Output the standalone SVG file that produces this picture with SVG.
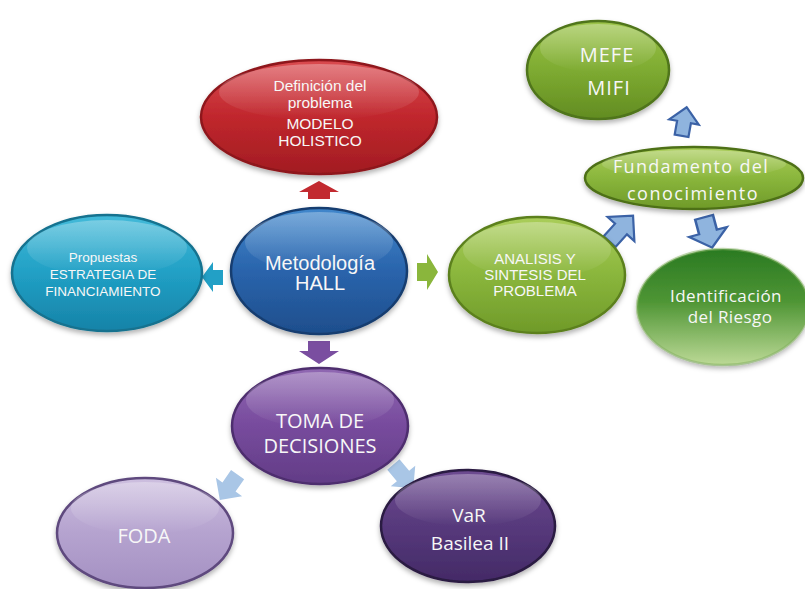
<svg xmlns="http://www.w3.org/2000/svg" width="805" height="589" viewBox="0 0 805 589">
<defs>
<filter id="sh" x="-20%" y="-20%" width="140%" height="150%"><feDropShadow dx="0" dy="3" stdDeviation="2.5" flood-color="#000" flood-opacity="0.3"/></filter>
<linearGradient id="gRed" x1="0" y1="0" x2="0" y2="1"><stop offset="0" stop-color="#DA4A50"/><stop offset="0.5" stop-color="#C0272D"/><stop offset="1" stop-color="#A21C22"/></linearGradient>
<linearGradient id="gBlue" x1="0" y1="0" x2="0" y2="1"><stop offset="0" stop-color="#4087CC"/><stop offset="0.5" stop-color="#2A64AC"/><stop offset="1" stop-color="#1E4E8C"/></linearGradient>
<linearGradient id="gCyan" x1="0" y1="0" x2="0" y2="1"><stop offset="0" stop-color="#43BAD9"/><stop offset="0.5" stop-color="#21A0C5"/><stop offset="1" stop-color="#1683A8"/></linearGradient>
<linearGradient id="gGreen" x1="0" y1="0" x2="0" y2="1"><stop offset="0" stop-color="#AACD5A"/><stop offset="0.5" stop-color="#8AB63C"/><stop offset="1" stop-color="#6F9A29"/></linearGradient>
<linearGradient id="gGreen2" x1="0" y1="0" x2="0" y2="1"><stop offset="0" stop-color="#9CC44A"/><stop offset="0.5" stop-color="#7EAB31"/><stop offset="1" stop-color="#628C22"/></linearGradient>
<linearGradient id="gIdent" x1="0" y1="0" x2="0" y2="1"><stop offset="0" stop-color="#2A7A22"/><stop offset="0.45" stop-color="#4E9534"/><stop offset="1" stop-color="#BCD996"/></linearGradient>
<linearGradient id="gToma" x1="0" y1="0" x2="0" y2="1"><stop offset="0" stop-color="#9068B2"/><stop offset="0.5" stop-color="#774B9D"/><stop offset="1" stop-color="#623C86"/></linearGradient>
<linearGradient id="gFoda" x1="0" y1="0" x2="0" y2="1"><stop offset="0" stop-color="#CDBFDF"/><stop offset="0.5" stop-color="#B5A3CF"/><stop offset="1" stop-color="#A490C2"/></linearGradient>
<linearGradient id="gVar" x1="0" y1="0" x2="0" y2="1"><stop offset="0" stop-color="#6E4C91"/><stop offset="0.5" stop-color="#57397C"/><stop offset="1" stop-color="#432A66"/></linearGradient>
<linearGradient id="gHi" x1="0" y1="0" x2="0" y2="1"><stop offset="0" stop-color="#fff" stop-opacity="0.3"/><stop offset="1" stop-color="#fff" stop-opacity="0"/></linearGradient>
</defs>
<style>
.node ellipse.b{stroke-width:2.5;filter:url(#sh)}
.hi{fill:url(#gHi)}
text{fill:#F7F7F7;text-anchor:middle}
.ar{font-family:"Liberation Sans",Arial,sans-serif}
.ca{font-family:"Open Sans","Noto Sans",sans-serif}
.ob{fill:#8FB4DE;stroke:#3B62A6;stroke-width:2.2;stroke-linejoin:miter}
.lb{fill:#A9C6E6}
</style>

<g id="connectors">
<path id="c-red" d="M319,181 L339,192 L330,192 L330,199 L308,199 L308,192 L299,192 Z" fill="#C2292F"/>
<path id="c-cyan" d="M202,277 L213,262 L213,270 L223,270 L223,285 L213,285 L213,292 Z" fill="#22A0C6"/>
<path id="c-green" d="M438,272 L427,254 L427,263 L417,263 L417,281 L427,281 L427,290 Z" fill="#8AB63C"/>
<path id="c-purple" d="M308,341 L330,341 L330,351 L339,351 L319,364 L299,351 L308,351 Z" fill="#7A4EA0"/>
<path id="c-fund" class="ob" d="M0,-18 L18,0 L8,0 L8,17 L-8,17 L-8,0 L-18,0 Z" transform="translate(621,229) rotate(42)"/>
<path id="c-ident" class="ob" d="M0,-17 L17,0 L8,0 L8,16 L-8,16 L-8,0 L-17,0 Z" transform="translate(708,232) rotate(165) scale(1.15,0.95)"/>
<path id="c-mefe" class="ob" d="M0,-15 L15,0 L7,0 L7,14 L-7,14 L-7,0 L-15,0 Z" transform="translate(684,122) rotate(10)"/>
<path id="c-foda" class="lb" d="M0,-16 L16,0 L8,0 L8,15 L-8,15 L-8,0 L-16,0 Z" transform="translate(229,487) rotate(-145)"/>
<path id="c-var" class="lb" d="M0,-16 L16,0 L8,0 L8,15 L-8,15 L-8,0 L-16,0 Z" transform="translate(403,476) rotate(140)"/>
</g>

<g id="n-definicion" class="node">
<ellipse class="b" cx="319" cy="117" rx="118" ry="57" fill="url(#gRed)" stroke="#8E181C"/>
<ellipse class="hi" cx="319" cy="92" rx="100" ry="28"/>
<text class="ar" font-size="15.5" x="320" y="91">Definición del</text>
<text class="ar" font-size="15.5" x="320" y="108">problema</text>
<text class="ar" font-size="15.5" x="320" y="129">MODELO</text>
<text class="ar" font-size="15.5" x="320" y="146">HOLISTICO</text>
</g>

<g id="n-propuestas" class="node">
<ellipse class="b" cx="107" cy="273" rx="95" ry="58" fill="url(#gCyan)" stroke="#13728F"/>
<ellipse class="hi" cx="107" cy="248" rx="80" ry="28"/>
<text class="ar" font-size="13.5" x="103" y="262">Propuestas</text>
<text class="ar" font-size="13.5" x="103" y="279">ESTRATEGIA DE</text>
<text class="ar" font-size="13.5" x="103" y="296">FINANCIAMIENTO</text>
</g>

<g id="n-metodologia" class="node">
<ellipse class="b" cx="319" cy="271" rx="88" ry="63" fill="url(#gBlue)" stroke="#173E70"/>
<ellipse class="hi" cx="319" cy="242" rx="74" ry="30"/>
<text class="ar" font-size="20" x="320" y="270">Metodología</text>
<text class="ar" font-size="20" x="320" y="290">HALL</text>
</g>

<g id="n-analisis" class="node">
<ellipse class="b" cx="537" cy="275" rx="88" ry="58" fill="url(#gGreen)" stroke="#5B801F"/>
<ellipse class="hi" cx="537" cy="250" rx="74" ry="28"/>
<text class="ar" font-size="15" x="535" y="264">ANALISIS Y</text>
<text class="ar" font-size="15" x="535" y="280">SINTESIS DEL</text>
<text class="ar" font-size="15" x="535" y="296">PROBLEMA</text>
</g>

<g id="n-fundamento" class="node">
<ellipse class="b" cx="694" cy="178" rx="109" ry="31" fill="url(#gGreen)" stroke="#4E7019"/>
<ellipse class="hi" cx="694" cy="164" rx="92" ry="14"/>
<text class="ca" font-size="18" font-weight="500" letter-spacing="1.3" x="691" y="173">Fundamento del</text>
<text class="ca" font-size="18" font-weight="500" letter-spacing="1.5" x="693" y="200">conocimiento</text>
</g>

<g id="n-mefe" class="node">
<ellipse class="b" cx="598" cy="70" rx="71" ry="49" fill="url(#gGreen2)" stroke="#50751A"/>
<ellipse class="hi" cx="598" cy="48" rx="58" ry="24"/>
<text class="ca" font-size="20" letter-spacing="1" x="607" y="62">MEFE</text>
<text class="ca" font-size="20" letter-spacing="1" x="609" y="95">MIFI</text>
</g>

<g id="n-identificacion" class="node">
<ellipse class="b" cx="723" cy="307" rx="86" ry="58" fill="url(#gIdent)" stroke="#7FAF5C" stroke-opacity="0.5"/>
<text class="ca" font-size="17" letter-spacing="0.4" x="726" y="302">Identificación</text>
<text class="ca" font-size="17" letter-spacing="0.4" x="730" y="323">del Riesgo</text>
</g>

<g id="n-toma" class="node">
<ellipse class="b" cx="320" cy="426" rx="88" ry="58" fill="url(#gToma)" stroke="#4E2D6E"/>
<ellipse class="hi" cx="320" cy="400" rx="74" ry="28"/>
<text class="ca" font-size="20" x="320" y="428">TOMA DE</text>
<text class="ca" font-size="20" x="320" y="453">DECISIONES</text>
</g>

<g id="n-foda" class="node">
<ellipse class="b" cx="145" cy="533" rx="88" ry="55" fill="url(#gFoda)" stroke="#5E4A7E"/>
<ellipse class="hi" cx="145" cy="508" rx="74" ry="26"/>
<text class="ca" font-size="20" x="144" y="543">FODA</text>
</g>

<g id="n-var" class="node">
<ellipse class="b" cx="468" cy="526" rx="87" ry="56" fill="url(#gVar)" stroke="#2B1A42"/>
<ellipse class="hi" cx="468" cy="500" rx="73" ry="26"/>
<text class="ca" font-size="19" x="469" y="522">VaR</text>
<text class="ca" font-size="19" x="470" y="550">Basilea II</text>
</g>
</svg>
